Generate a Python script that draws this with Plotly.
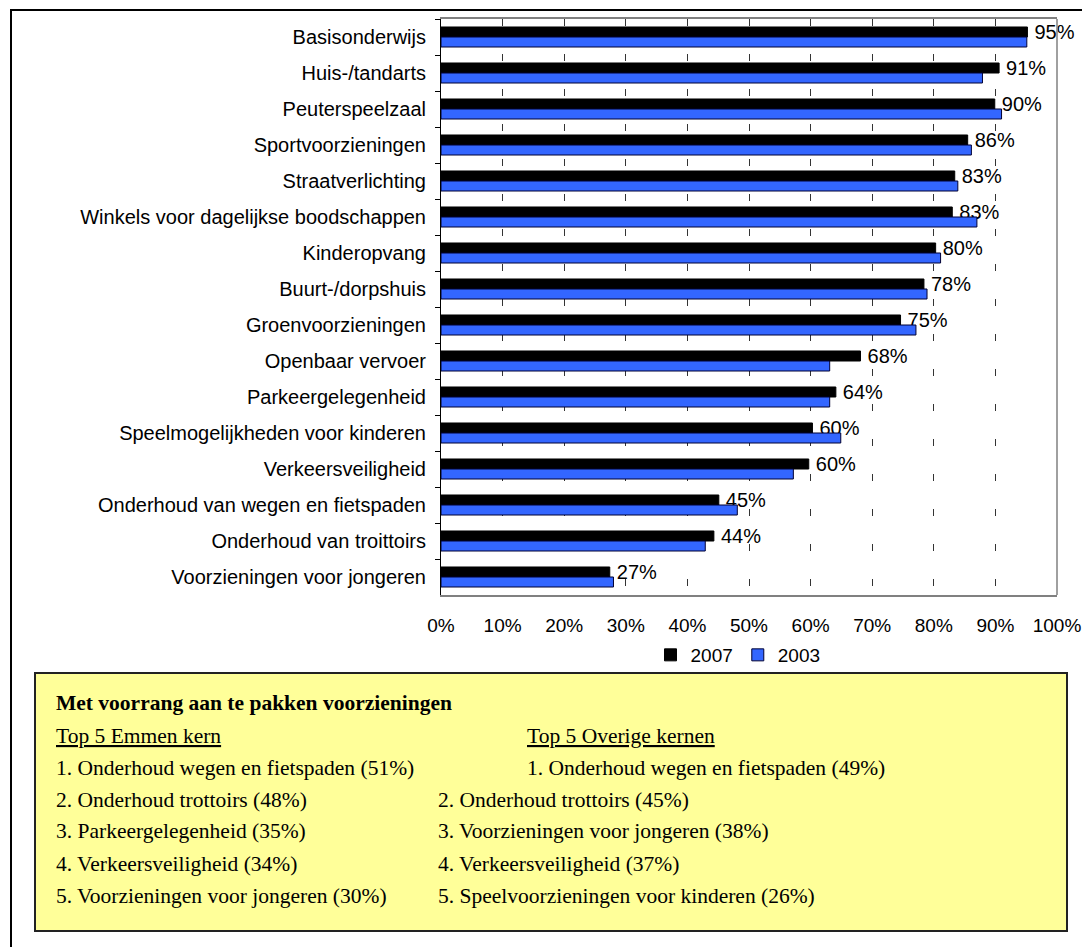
import plotly.graph_objects as go

# ---------------- data ----------------
categories = [
    "Basisonderwijs", "Huis-/tandarts", "Peuterspeelzaal", "Sportvoorzieningen",
    "Straatverlichting", "Winkels voor dagelijkse boodschappen", "Kinderopvang",
    "Buurt-/dorpshuis", "Groenvoorzieningen", "Openbaar vervoer",
    "Parkeergelegenheid", "Speelmogelijkheden voor kinderen", "Verkeersveiligheid",
    "Onderhoud van wegen en fietspaden", "Onderhoud van troittoirs",
    "Voorzieningen voor jongeren",
]
values_2007 = [95.2, 90.6, 89.9, 85.5, 83.4, 83.0, 80.3, 78.4, 74.6, 68.1,
               64.1, 60.3, 59.7, 45.1, 44.3, 27.4]
values_2003 = [95.1, 87.9, 91.0, 86.1, 83.9, 87.0, 81.1, 78.9, 77.1, 63.1,
               63.1, 64.9, 57.2, 48.1, 42.9, 28.0]
series_names = ["2007", "2003"]
x_ticks = [0, 10, 20, 30, 40, 50, 60, 70, 80, 90, 100]
x_tick_labels = ["0%", "10%", "20%", "30%", "40%", "50%", "60%", "70%", "80%", "90%", "100%"]

box_title = "Met voorrang aan te pakken voorzieningen"
left_header = "Top 5 Emmen kern"
right_header = "Top 5 Overige kernen"
left_items = [
    "1. Onderhoud wegen en fietspaden (51%)",
    "2. Onderhoud trottoirs (48%)",
    "3. Parkeergelegenheid (35%)",
    "4. Verkeersveiligheid (34%)",
    "5. Voorzieningen voor jongeren (30%)",
]
right_items = [
    "1. Onderhoud wegen en fietspaden (49%)",
    "2. Onderhoud trottoirs (45%)",
    "3. Voorzieningen voor jongeren (38%)",
    "4. Verkeersveiligheid (37%)",
    "5. Speelvoorzieningen voor kinderen (26%)",
]

# ---------------- layout geometry ----------------
# page body has an 8px margin, so figure coords = screen coords - 8
OFF = 8
W, H = 1082, 939
PLOT_L, PLOT_R, PLOT_T, PLOT_B = 441 - OFF, 1057 - OFF, 19 - OFF, 595 - OFF
L, R, T, B = PLOT_L, W - PLOT_R, PLOT_T, H - PLOT_B
PW = PLOT_R - PLOT_L
PH = PLOT_B - PLOT_T

def px(x):
    """screen x -> paper x"""
    return (x - OFF - PLOT_L) / PW

def py(y):
    """screen y -> paper y"""
    return (PLOT_B - (y - OFF)) / PH

SANS = "Liberation Sans, Arial, sans-serif"
SERIF = "Liberation Serif, Times New Roman, serif"

fig = go.Figure()
fig.add_trace(go.Bar(
    y=categories, x=values_2007, name=series_names[0], orientation="h",
    marker=dict(color="#000000", line=dict(color="#000000", width=1)),
    texttemplate="\u2009%{x:.0f}%", textposition="outside", constraintext="none",
    cliponaxis=False, textfont=dict(family=SANS, size=20, color="#000000"),
))
fig.add_trace(go.Bar(
    y=categories, x=values_2003, name=series_names[1], orientation="h",
    marker=dict(color="#3366FF", line=dict(color="#000033", width=1)),
))

fig.update_layout(
    width=W, height=H,
    margin=dict(l=L, r=R, t=T, b=B, autoexpand=False),
    paper_bgcolor="white", plot_bgcolor="white",
    barmode="group", bargap=0.444, bargroupgap=0,
    font=dict(family=SANS, size=19, color="#000000"),
    showlegend=True,
    legend=dict(orientation="h", x=px(738), xanchor="center", y=py(636), yanchor="top",
                font=dict(family=SANS, size=19), bgcolor="rgba(0,0,0,0)",
                itemwidth=30, tracegroupgap=0),
    xaxis=dict(range=[0, 100], tickmode="array", tickvals=x_ticks, ticktext=x_tick_labels,
               showgrid=True, gridcolor="#333333", griddash="7px,28px", gridwidth=1,
               showline=True, mirror=True, linecolor="#808080", linewidth=1.5,
               ticks="", ticklabelstandoff=12, zeroline=False, automargin=False,
               tickfont=dict(family=SANS, size=19)),
    yaxis=dict(autorange="reversed", showline=True, linecolor="#000000", linewidth=1,
               ticks="outside", tickson="boundaries", ticklen=5, tickcolor="#000000",
               ticklabelstandoff=10, showgrid=False, automargin=False,
               tickfont=dict(family=SANS, size=20)),
)

shapes = [
    # right border of plot area
    dict(type="line", xref="paper", yref="paper", x0=1, x1=1, y0=0, y1=1,
         line=dict(color="#808080", width=1.5)),
    # outer frame
    dict(type="rect", xref="paper", yref="paper", x0=px(11), x1=px(1110),
         y0=py(975), y1=py(10), line=dict(color="#000000", width=2)),
    # yellow note box
    dict(type="rect", xref="paper", yref="paper", x0=px(35), x1=px(1067),
         y0=py(931), y1=py(673), fillcolor="#FFFF99",
         line=dict(color="#222222", width=2), layer="above"),
]
fig.update_layout(shapes=shapes)

def add_text(text, x, baseline, bold=False):
    fig.add_annotation(
        text=("<b>%s</b>" % text) if bold else text,
        xref="paper", yref="paper", x=px(x), y=py(baseline - 7),
        xanchor="left", yanchor="middle", showarrow=False, xshift=-2,
        font=dict(family=SERIF, size=21.5, color="#000000"),
    )

add_text(box_title, 56, 710, bold=True)
add_text("<u>%s</u>" % left_header, 56, 743)
add_text("<u>%s</u>" % right_header, 527, 743)
left_baselines = [775, 807, 838, 871, 903]
for txt, bl in zip(left_items, left_baselines):
    add_text(txt, 56, bl)
for i, (txt, bl) in enumerate(zip(right_items, left_baselines)):
    add_text(txt, 527 if i == 0 else 438, bl)

fig.write_html("out.html")
